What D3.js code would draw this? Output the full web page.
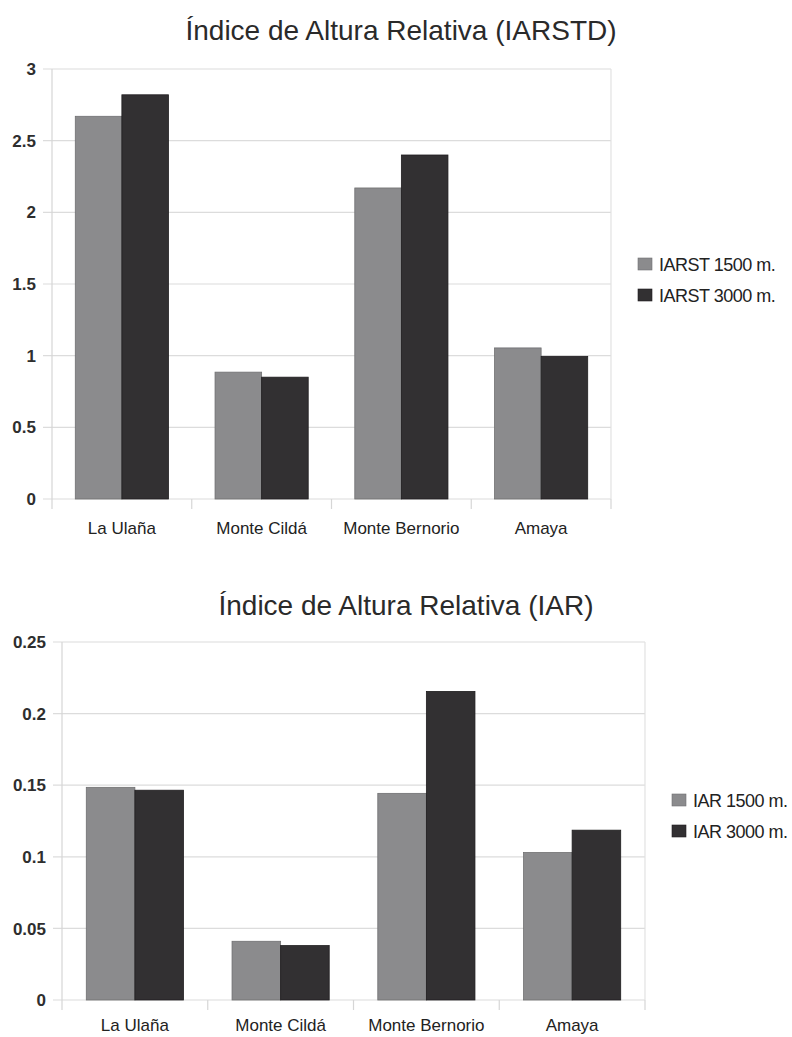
<!DOCTYPE html>
<html>
<head>
<meta charset="utf-8">
<script src="https://cdn.jsdelivr.net/npm/d3@7/dist/d3.min.js"></script>
<style>
  html, body { margin: 0; padding: 0; background: #fff; }
  svg { display: block; font-family: "Liberation Sans", Arial, sans-serif; }
</style>
</head>
<body>
<div id="chart"></div>
<script>
// ---- data ----
const categories = ["La Ulaña", "Monte Cildá", "Monte Bernorio", "Amaya"];

const title1 = "Índice de Altura Relativa (IARSTD)";
const series1Names = ["IARST 1500 m.", "IARST 3000 m."];
const iarst1500 = [2.67, 0.885, 2.17, 1.054];
const iarst3000 = [2.82, 0.85, 2.40, 0.995];
const yTicks1 = [0, 0.5, 1, 1.5, 2, 2.5, 3];
const yTickLabels1 = ["0", "0.5", "1", "1.5", "2", "2.5", "3"];

const title2 = "Índice de Altura Relativa (IAR)";
const series2Names = ["IAR 1500 m.", "IAR 3000 m."];
const iar1500 = [0.1485, 0.041, 0.1443, 0.103];
const iar3000 = [0.1465, 0.038, 0.2155, 0.1186];
const yTicks2 = [0, 0.05, 0.1, 0.15, 0.2, 0.25];
const yTickLabels2 = ["0", "0.05", "0.1", "0.15", "0.2", "0.25"];

const seriesColors = ["#8b8b8d", "#323032"];
const seriesStrokes = ["#707072", "#1f1d1f"];

// ---- layout ----
const W = 792, H = 1037;
const svg = d3.select("#chart").append("svg").attr("width", W).attr("height", H);

function drawChart(cfg) {
  const g = svg.append("g");
  const x0 = d3.scaleBand().domain(categories).range([cfg.left, cfg.right]).padding(0);
  const x1 = d3.scaleBand().domain([0, 1]).range([0, x0.bandwidth()]).paddingInner(0).paddingOuter(0.5);
  const y = d3.scaleLinear().domain([0, cfg.ymax]).range([cfg.bottom, cfg.top]);

  // title
  g.append("text")
    .attr("x", cfg.titleX).attr("y", cfg.titleY)
    .attr("text-anchor", "middle")
    .attr("font-size", 28).attr("fill", "#2a2a2a")
    .text(cfg.title);

  // gridlines
  g.append("g").selectAll("line").data(cfg.ticks).join("line")
    .attr("x1", cfg.left - 9).attr("x2", cfg.right)
    .attr("y1", d => y(d)).attr("y2", d => y(d))
    .attr("stroke", "#dcdcdc").attr("stroke-width", 1.2);

  // right border
  g.append("line")
    .attr("x1", cfg.right).attr("x2", cfg.right)
    .attr("y1", cfg.top).attr("y2", cfg.bottom)
    .attr("stroke", "#e2e2e2").attr("stroke-width", 1.2);

  // left axis line (extends below)
  g.append("line")
    .attr("x1", cfg.left).attr("x2", cfg.left)
    .attr("y1", cfg.top).attr("y2", cfg.bottom + 10)
    .attr("stroke", "#d6d6d6").attr("stroke-width", 1.2);

  // category boundary ticks
  const bounds = categories.slice(1).map(c => x0(c)).concat([cfg.right]);
  g.append("g").selectAll("line").data(bounds).join("line")
    .attr("x1", d => d).attr("x2", d => d)
    .attr("y1", cfg.bottom).attr("y2", cfg.bottom + 10)
    .attr("stroke", "#d6d6d6").attr("stroke-width", 1.2);

  // y tick labels
  g.append("g").selectAll("text").data(cfg.ticks).join("text")
    .attr("x", cfg.labelRight).attr("y", d => y(d))
    .attr("dy", "0.36em")
    .attr("text-anchor", "end")
    .attr("font-size", 17).attr("font-weight", "bold").attr("fill", "#2e2e2e")
    .text((d, i) => cfg.tickLabels[i]);

  // bars
  const groups = g.append("g").selectAll("g").data(categories).join("g")
    .attr("transform", d => `translate(${x0(d)},0)`);
  groups.selectAll("rect")
    .data((c, ci) => cfg.series.map((s, si) => ({ si, v: s[ci] })))
    .join("rect")
    .attr("x", d => x1(d.si))
    .attr("width", x1.bandwidth())
    .attr("y", d => y(d.v))
    .attr("height", d => y(0) - y(d.v))
    .attr("fill", d => seriesColors[d.si])
    .attr("stroke", d => seriesStrokes[d.si])
    .attr("stroke-width", 0.8);

  // category labels
  g.append("g").selectAll("text").data(categories).join("text")
    .attr("x", d => x0(d) + x0.bandwidth() / 2)
    .attr("y", cfg.bottom + cfg.catOffset)
    .attr("text-anchor", "middle")
    .attr("font-size", 17).attr("fill", "#222")
    .text(d => d);

  // legend
  const lg = g.append("g");
  cfg.names.forEach((n, i) => {
    const yy = cfg.legendY + i * 31;
    lg.append("rect")
      .attr("x", cfg.legendX).attr("y", yy - 12)
      .attr("width", 14).attr("height", 12)
      .attr("fill", seriesColors[i]).attr("stroke", seriesStrokes[i]).attr("stroke-width", 0.6);
    lg.append("text")
      .attr("x", cfg.legendX + 21).attr("y", yy + 1)
      .attr("font-size", 18).attr("fill", "#222")
      .attr("letter-spacing", -0.5)
      .text(n);
  });
}

drawChart({
  title: title1, titleX: 401, titleY: 40,
  left: 52, right: 611, top: 69, bottom: 499, ymax: 3,
  ticks: yTicks1, tickLabels: yTickLabels1, labelRight: 36,
  series: [iarst1500, iarst3000], names: series1Names,
  legendX: 638, legendY: 270, catOffset: 35
});

drawChart({
  title: title2, titleX: 406, titleY: 615,
  left: 62, right: 645, top: 642, bottom: 1000, ymax: 0.25,
  ticks: yTicks2, tickLabels: yTickLabels2, labelRight: 46,
  series: [iar1500, iar3000], names: series2Names,
  legendX: 672, legendY: 806, catOffset: 31
});
</script>
</body>
</html>
